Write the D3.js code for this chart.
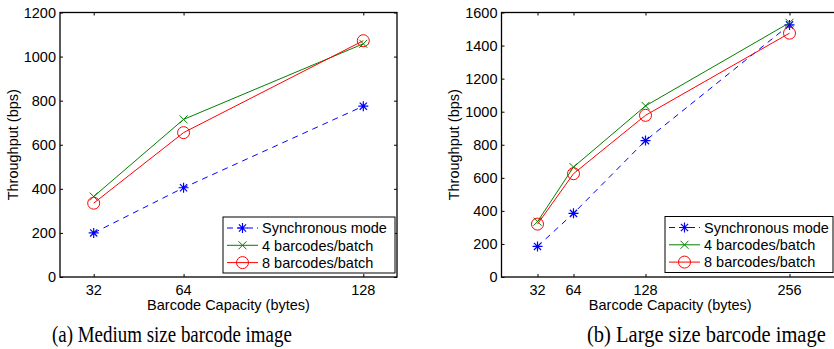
<!DOCTYPE html>
<html>
<head>
<meta charset="utf-8">
<script src="https://cdn.jsdelivr.net/npm/d3@7"></script>
<style>
  body { margin: 0; background: #fff; }
  svg { display: block; }
  .tick-label, .axis-label, .legend-text { font-family: "Liberation Sans", Arial, Helvetica, sans-serif; font-size: 14.5px; fill: #000; }
  .caption { font-family: "Liberation Serif", "DejaVu Serif", serif; font-size: 23px; fill: #000; }
</style>
</head>
<body>
<svg id="chart" width="834" height="349"></svg>
<script>
// Data
var capLeft = [32, 64, 128];
var syncLeft = [200, 405, 775];
var batch4Left = [365, 715, 1058];
var batch8Left = [335, 655, 1072];
var yTicksLeft = [0, 200, 400, 600, 800, 1000, 1200];

var capRight = [32, 64, 128, 256];
var syncRight = [185, 385, 825, 1525];
var batch4Right = [335, 665, 1035, 1538];
var batch8Right = [320, 625, 978, 1475];
var yTicksRight = [0, 200, 400, 600, 800, 1000, 1200, 1400, 1600];

var seriesNames = ["Synchronous mode", "4 barcodes/batch", "8 barcodes/batch"];
var captions = ["(a) Medium size barcode image", "(b) Large size barcode image"];

var svg = d3.select("#chart");

var styles = [
    { color: "#0000ff", dash: "6,5", marker: "star" },
    { color: "#008000", dash: null, marker: "x" },
    { color: "#ff0000", dash: null, marker: "circle" }
];

// Draw one marker at (x, y)
function drawMarker(g, type, color, x, y) {
    if (type == "circle") {
        g.append("circle").attr("cx", x).attr("cy", y).attr("r", 6)
            .attr("fill", "none").attr("stroke", color).attr("stroke-width", 1);
    } else if (type == "x") {
        var s = 4;
        g.append("path")
            .attr("d", "M" + (x - s) + "," + (y - s) + "L" + (x + s) + "," + (y + s) +
                       "M" + (x - s) + "," + (y + s) + "L" + (x + s) + "," + (y - s))
            .attr("stroke", color).attr("stroke-width", 1).attr("fill", "none");
    } else {
        var s = 5, d = 3.6;
        g.append("path")
            .attr("d", "M" + x + "," + (y - s) + "L" + x + "," + (y + s) +
                       "M" + (x - s) + "," + y + "L" + (x + s) + "," + y +
                       "M" + (x - d) + "," + (y - d) + "L" + (x + d) + "," + (y + d) +
                       "M" + (x - d) + "," + (y + d) + "L" + (x + d) + "," + (y - d))
            .attr("stroke", color).attr("stroke-width", 1.2).attr("fill", "none");
    }
}

function drawPanel(p) {
    var g = svg.append("g");
    var x = d3.scaleLinear().domain(p.xDomain).range([p.left, p.right]);
    var y = d3.scaleLinear().domain([0, p.yMax]).range([p.bottom, p.top]);

    // axes with inward ticks on all sides (matlab box style)
    g.append("g").attr("transform", "translate(0," + p.bottom + ")")
        .call(d3.axisBottom(x).tickValues(p.cap).tickSize(-3).tickFormat(""))
        .call(function (a) { a.select(".domain").remove(); a.selectAll("line").attr("stroke", "#000"); });
    g.append("g").attr("transform", "translate(0," + p.top + ")")
        .call(d3.axisTop(x).tickValues(p.cap).tickSize(-3).tickFormat(""))
        .call(function (a) { a.select(".domain").remove(); a.selectAll("line").attr("stroke", "#000"); });
    g.append("g").attr("transform", "translate(" + p.left + ",0)")
        .call(d3.axisLeft(y).tickValues(p.yTicks).tickSize(-3).tickFormat(""))
        .call(function (a) { a.select(".domain").remove(); a.selectAll("line").attr("stroke", "#000"); });
    g.append("g").attr("transform", "translate(" + p.right + ",0)")
        .call(d3.axisRight(y).tickValues(p.yTicks).tickSize(-3).tickFormat(""))
        .call(function (a) { a.select(".domain").remove(); a.selectAll("line").attr("stroke", "#000"); });

    // tick labels
    g.selectAll(".xl").data(p.cap).enter().append("text")
        .attr("class", "tick-label")
        .attr("x", function (d) { return x(d); })
        .attr("y", p.bottom + 18)
        .attr("text-anchor", "middle")
        .text(function (d) { return d; });
    g.selectAll(".yl").data(p.yTicks).enter().append("text")
        .attr("class", "tick-label")
        .attr("x", p.left - 4)
        .attr("y", function (d) { return y(d); })
        .attr("dy", "0.36em")
        .attr("text-anchor", "end")
        .text(function (d) { return d; });

    // axis titles
    g.append("text").attr("class", "axis-label")
        .attr("x", (p.left + p.boxRight) / 2).attr("y", p.bottom + 33)
        .attr("text-anchor", "middle")
        .text("Barcode Capacity (bytes)");
    g.append("text").attr("class", "axis-label")
        .attr("transform", "translate(" + p.yLabelX + "," + ((p.top + p.bottom) / 2) + ") rotate(-90)")
        .attr("text-anchor", "middle")
        .text("Throughput (bps)");

    // series
    var line = d3.line().x(function (d) { return x(d[0]); }).y(function (d) { return y(d[1]); });
    p.series.forEach(function (vals, i) {
        var pts = p.cap.map(function (c, j) { return [c, vals[j]]; });
        g.append("path").datum(pts).attr("d", line)
            .attr("fill", "none").attr("stroke", styles[i].color).attr("stroke-width", 1)
            .attr("stroke-dasharray", styles[i].dash);
        pts.forEach(function (pt) {
            drawMarker(g, styles[i].marker, styles[i].color, x(pt[0]), y(pt[1]));
        });
    });

    // box
    g.append("rect").attr("x", p.left).attr("y", p.top)
        .attr("width", p.right - p.left).attr("height", p.bottom - p.top)
        .attr("fill", "none").attr("stroke", "#000").attr("stroke-width", 1.3);

    // legend
    var lg = g.append("g").attr("transform", "translate(" + p.legX + "," + p.legY + ")");
    lg.append("rect").attr("x", 0).attr("y", 0).attr("width", p.legW).attr("height", 56)
        .attr("fill", "#fff").attr("stroke", "#000").attr("stroke-width", 1);
    seriesNames.forEach(function (name, i) {
        var ry = 11 + i * 17.3;
        lg.append("line").attr("x1", 4).attr("x2", 35).attr("y1", ry).attr("y2", ry)
            .attr("stroke", styles[i].color).attr("stroke-width", 1)
            .attr("stroke-dasharray", styles[i].dash ? "6,4" : null);
        drawMarker(lg, styles[i].marker, styles[i].color, 19.5, ry);
        lg.append("text").attr("class", "legend-text")
            .attr("x", 39).attr("y", ry).attr("dy", "0.36em")
            .text(name);
    });

    // caption, squeezed horizontally to the reference width
    var cap = svg.append("text").attr("class", "caption").text(p.caption);
    var natural = cap.node().getComputedTextLength();
    var sx = Math.min(1, p.capW / natural);
    cap.attr("transform", "translate(" + p.capX + ",342) scale(" + sx + ",1)");
}

drawPanel({
    cap: capLeft, series: [syncLeft, batch4Left, batch8Left], yTicks: yTicksLeft,
    xDomain: [20, 140], yMax: 1200,
    left: 60, right: 397, boxRight: 397, top: 12.5, bottom: 277,
    yLabelX: 18, legX: 223, legY: 217, legW: 172,
    caption: captions[0], capX: 52, capW: 240
});

drawPanel({
    cap: capRight, series: [syncRight, batch4Right, batch8Right], yTicks: yTicksRight,
    xDomain: [0, 300], yMax: 1600,
    left: 501.5, right: 839, boxRight: 839, top: 12.5, bottom: 277,
    yLabelX: 459, legX: 665, legY: 216.5, legW: 168,
    caption: captions[1], capX: 587, capW: 239
});
</script>
</body>
</html>
